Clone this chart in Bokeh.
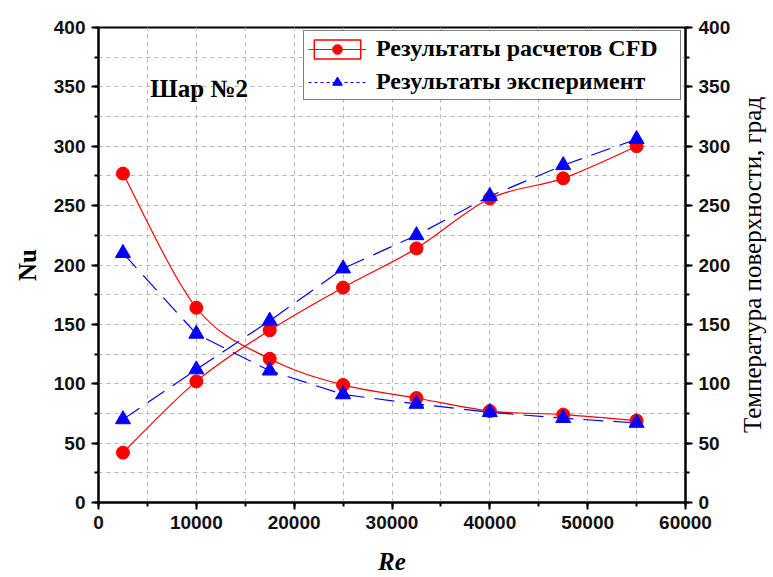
import math
from bokeh.plotting import figure
from bokeh.models import (Range1d, LinearAxis, SingleIntervalTicker, Legend,
                          LegendItem, ColumnDataSource, Label)
from bokeh.embed import file_html
from bokeh.resources import INLINE

# Reynolds numbers of the runs
re_vals = [2500, 10000, 17500, 25000, 32500, 40000, 47500, 55000]
# Nusselt number: CFD and experiment (left axis)
nu_cfd = [42, 102, 145, 181, 214, 256, 273, 300]
nu_exp = [70, 112, 153, 197, 225, 258, 284, 306]
# Surface temperature, deg: CFD and experiment (right axis)
temp_cfd = [277, 164, 121, 99, 88, 77, 74, 69]
temp_exp = [210, 142, 111, 91, 83, 76, 71, 67]

RED = "#ff0000"
BLUE = "#0000ff"
SERIF = "Liberation Serif"
SANS = "Liberation Sans"


def smooth_segments(xs, ys):
    """Catmull-Rom control points for a smooth curve through the points."""
    n = len(xs)
    seg = dict(x0=[], y0=[], x1=[], y1=[], cx0=[], cy0=[], cx1=[], cy1=[])
    for i in range(n - 1):
        xp, yp = (xs[i - 1], ys[i - 1]) if i > 0 else (xs[i], ys[i])
        xn, yn = (xs[i + 2], ys[i + 2]) if i + 2 < n else (xs[i + 1], ys[i + 1])
        seg["x0"].append(xs[i]); seg["y0"].append(ys[i])
        seg["x1"].append(xs[i + 1]); seg["y1"].append(ys[i + 1])
        seg["cx0"].append(xs[i] + (xs[i + 1] - xp) / 6)
        seg["cy0"].append(ys[i] + (ys[i + 1] - yp) / 6)
        seg["cx1"].append(xs[i + 1] - (xn - xs[i]) / 6)
        seg["cy1"].append(ys[i + 1] - (yn - ys[i]) / 6)
    return ColumnDataSource(seg)


p = figure(width=773, height=577, x_range=Range1d(0, 60000), y_range=Range1d(0, 400),
           output_backend="svg", toolbar_location=None,
           min_border_left=98, min_border_right=88, min_border_top=27, min_border_bottom=75)
p.extra_y_ranges = {"temp": Range1d(0, 400)}
p.background_fill_color = "white"
p.border_fill_color = "white"
p.outline_line_color = "black"
p.outline_line_width = 2

# grid on the minor ticks only
for g in (p.xgrid, p.ygrid):
    g.grid_line_color = None
    g.minor_grid_line_color = "#b4b4b4"
    g.minor_grid_line_dash = "4 4"
    g.minor_grid_line_width = 1

xaxis = p.xaxis[0]
left = p.yaxis[0]
xaxis.ticker = SingleIntervalTicker(interval=10000, num_minor_ticks=2)
left.ticker = SingleIntervalTicker(interval=50, num_minor_ticks=2)
p.xgrid.ticker = xaxis.ticker
p.ygrid.ticker = left.ticker

right = LinearAxis(y_range_name="temp", ticker=SingleIntervalTicker(interval=50, num_minor_ticks=2))
p.add_layout(right, "right")

for ax in (xaxis, left, right):
    ax.axis_line_color = "black"
    ax.axis_line_width = 2
    ax.major_tick_line_color = "black"
    ax.major_tick_line_width = 2
    ax.minor_tick_line_color = "black"
    ax.minor_tick_line_width = 2
    ax.major_tick_in = 0
    ax.major_tick_out = 7
    ax.minor_tick_in = 0
    ax.minor_tick_out = 4
    ax.major_label_text_font = SANS
    ax.major_label_text_font_style = "bold"
    ax.major_label_text_font_size = "19px"
    ax.major_label_text_color = "#111111"
    ax.major_label_standoff = 6
    ax.axis_label_text_color = "black"

xaxis.axis_label = "Re"
xaxis.axis_label_text_font = SERIF
xaxis.axis_label_text_font_style = "bold italic"
xaxis.axis_label_text_font_size = "25px"
xaxis.axis_label_standoff = 16

left.axis_label = "Nu"
left.axis_label_text_font = SERIF
left.axis_label_text_font_style = "bold"
left.axis_label_text_font_size = "25px"
left.axis_label_standoff = 10

# right axis title, reading bottom to top, in its own side slot
p.add_layout(Label(x=19, y=237.5, x_units="screen", y_units="screen",
                   text="Температура поверхности, град", text_font=SERIF,
                   text_font_size="25px", text_color="black", angle=math.pi / 2,
                   text_align="center", text_baseline="middle"), "right")

# CFD: smooth solid red curves with circles
p.bezier(x0="x0", y0="y0", x1="x1", y1="y1", cx0="cx0", cy0="cy0",
         cx1="cx1", cy1="cy1", source=smooth_segments(re_vals, nu_cfd),
         line_color=RED, line_width=1.2)
p.bezier(x0="x0", y0="y0", x1="x1", y1="y1", cx0="cx0", cy0="cy0",
         cx1="cx1", cy1="cy1", source=smooth_segments(re_vals, temp_cfd),
         line_color=RED, line_width=1.2, y_range_name="temp")

# experiment: dashed blue lines with triangles
p.line(re_vals, nu_exp, line_color=BLUE, line_width=1.2, line_dash="20 10")
p.line(re_vals, temp_exp, line_color=BLUE, line_width=1.2, line_dash="20 10", y_range_name="temp")

p.scatter(re_vals, nu_cfd, marker="circle", size=13, fill_color=RED, line_color=RED)
p.scatter(re_vals, temp_cfd, marker="circle", size=13, fill_color=RED, line_color=RED,
          y_range_name="temp")
p.scatter(re_vals, nu_exp, marker="triangle", size=15, fill_color=BLUE, line_color=BLUE)
p.scatter(re_vals, temp_exp, marker="triangle", size=15, fill_color=BLUE, line_color=BLUE,
          y_range_name="temp")

# legend-only renderers (nothing drawn in the plot area)
nan = float("nan")
box_sample = p.quad(left=[nan], right=[nan], top=[nan], bottom=[nan], fill_alpha=0,
                    line_color=RED, line_width=1.5)
red_sample = p.line(x=[nan], y=[nan], line_color=RED, line_width=1.2)
red_mark = p.scatter(x=[nan], y=[nan], marker="circle", size=11, fill_color=RED, line_color=RED)
blue_sample = p.line(x=[nan], y=[nan], line_color=BLUE, line_width=1.2, line_dash="3 3")
blue_mark = p.scatter(x=[nan], y=[nan], marker="triangle", size=13, fill_color=BLUE,
                      line_color=BLUE)

legend = Legend(items=[
    LegendItem(label="Результаты расчетов CFD", renderers=[box_sample, red_sample, red_mark]),
    LegendItem(label="Результаты эксперимент", renderers=[blue_sample, blue_mark]),
], location=(205, 402))
legend.label_text_font = SERIF
legend.label_text_font_style = "bold"
legend.label_text_font_size = "24px"
legend.label_text_color = "black"
legend.glyph_width = 58
legend.glyph_height = 24
legend.label_height = 24
legend.label_width = 300
legend.label_standoff = 10
legend.spacing = 6
legend.padding = 4
legend.margin = 0
legend.border_line_color = "black"
legend.border_line_width = 1.5
legend.background_fill_color = "white"
legend.background_fill_alpha = 1
p.add_layout(legend, "center")

p.add_layout(Label(x=5300, y=349, text="Шар №2", text_font=SERIF, text_font_style="bold",
                   text_font_size="25px", text_color="black", text_baseline="middle"))

open("out.html", "w").write(file_html(p, INLINE))
